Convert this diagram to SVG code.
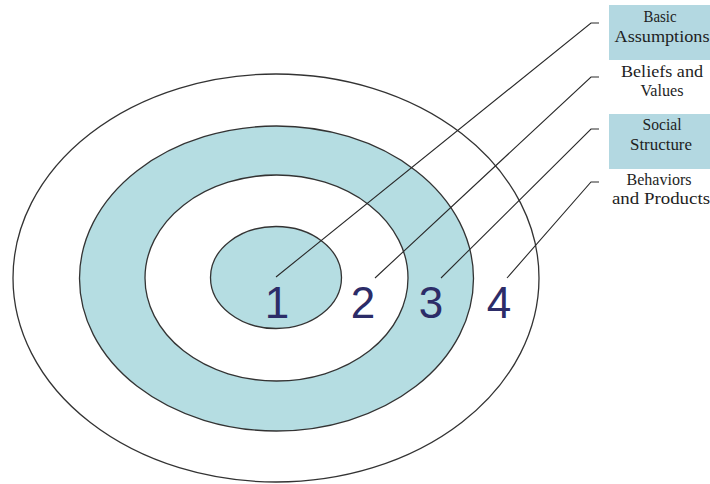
<svg xmlns="http://www.w3.org/2000/svg" width="710" height="484" viewBox="0 0 710 484">
<style>
.ring{stroke:#333333;stroke-width:1.3}
.shade{fill:#b5dde2}
.white{fill:#ffffff}
.lbl{font-family:"Liberation Serif","Times New Roman",serif;font-size:16px;fill:#1e1e1e;text-anchor:middle}
.num{font-family:"Liberation Sans",Arial,sans-serif;font-size:44px;fill:#2c2c68;text-anchor:middle}
.box{fill:#b3d8e1}
.lead{fill:none;stroke:#2a2a2a;stroke-width:1.1}
</style>
<rect width="710" height="484" fill="#ffffff"/>
<g id="ring4"><ellipse class="ring white" cx="276" cy="278" rx="263" ry="204"/></g>
<g id="ring3"><ellipse class="ring shade" cx="276.5" cy="278.5" rx="197" ry="152.5"/></g>
<g id="ring2"><ellipse class="ring white" cx="276.5" cy="278" rx="131.5" ry="103"/></g>
<g id="ring1"><ellipse class="ring shade" cx="276" cy="277.5" rx="65.5" ry="51"/></g>
<g id="connectors">
<polyline class="lead" points="276,277 591,23 599,23"/>
<polyline class="lead" points="375,278 591,77 599,77"/>
<polyline class="lead" points="441,278 591,129 599,129"/>
<polyline class="lead" points="507,278 591,182 599,182"/>
</g>
<g id="num1"><text class="num" x="277" y="318">1</text></g>
<g id="num2"><text class="num" x="363" y="318">2</text></g>
<g id="num3"><text class="num" x="431" y="318">3</text></g>
<g id="num4"><text class="num" x="499" y="318">4</text></g>
<g id="label1"><rect class="box" x="609" y="5" width="101" height="55"/>
<text class="lbl" x="660" y="22" textLength="33" lengthAdjust="spacingAndGlyphs">Basic</text>
<text class="lbl" x="662" y="42" textLength="95" lengthAdjust="spacingAndGlyphs">Assumptions</text></g>
<g id="label2">
<text class="lbl" x="662" y="77" textLength="82" lengthAdjust="spacingAndGlyphs">Beliefs and</text>
<text class="lbl" x="662" y="96" textLength="43" lengthAdjust="spacingAndGlyphs">Values</text></g>
<g id="label3"><rect class="box" x="609" y="114" width="101" height="55"/>
<text class="lbl" x="662" y="130" textLength="39" lengthAdjust="spacingAndGlyphs">Social</text>
<text class="lbl" x="661" y="150" textLength="62" lengthAdjust="spacingAndGlyphs">Structure</text></g>
<g id="label4">
<text class="lbl" x="659" y="185" textLength="65" lengthAdjust="spacingAndGlyphs">Behaviors</text>
<text class="lbl" x="661" y="204" textLength="98" lengthAdjust="spacingAndGlyphs">and Products</text></g>
</svg>
